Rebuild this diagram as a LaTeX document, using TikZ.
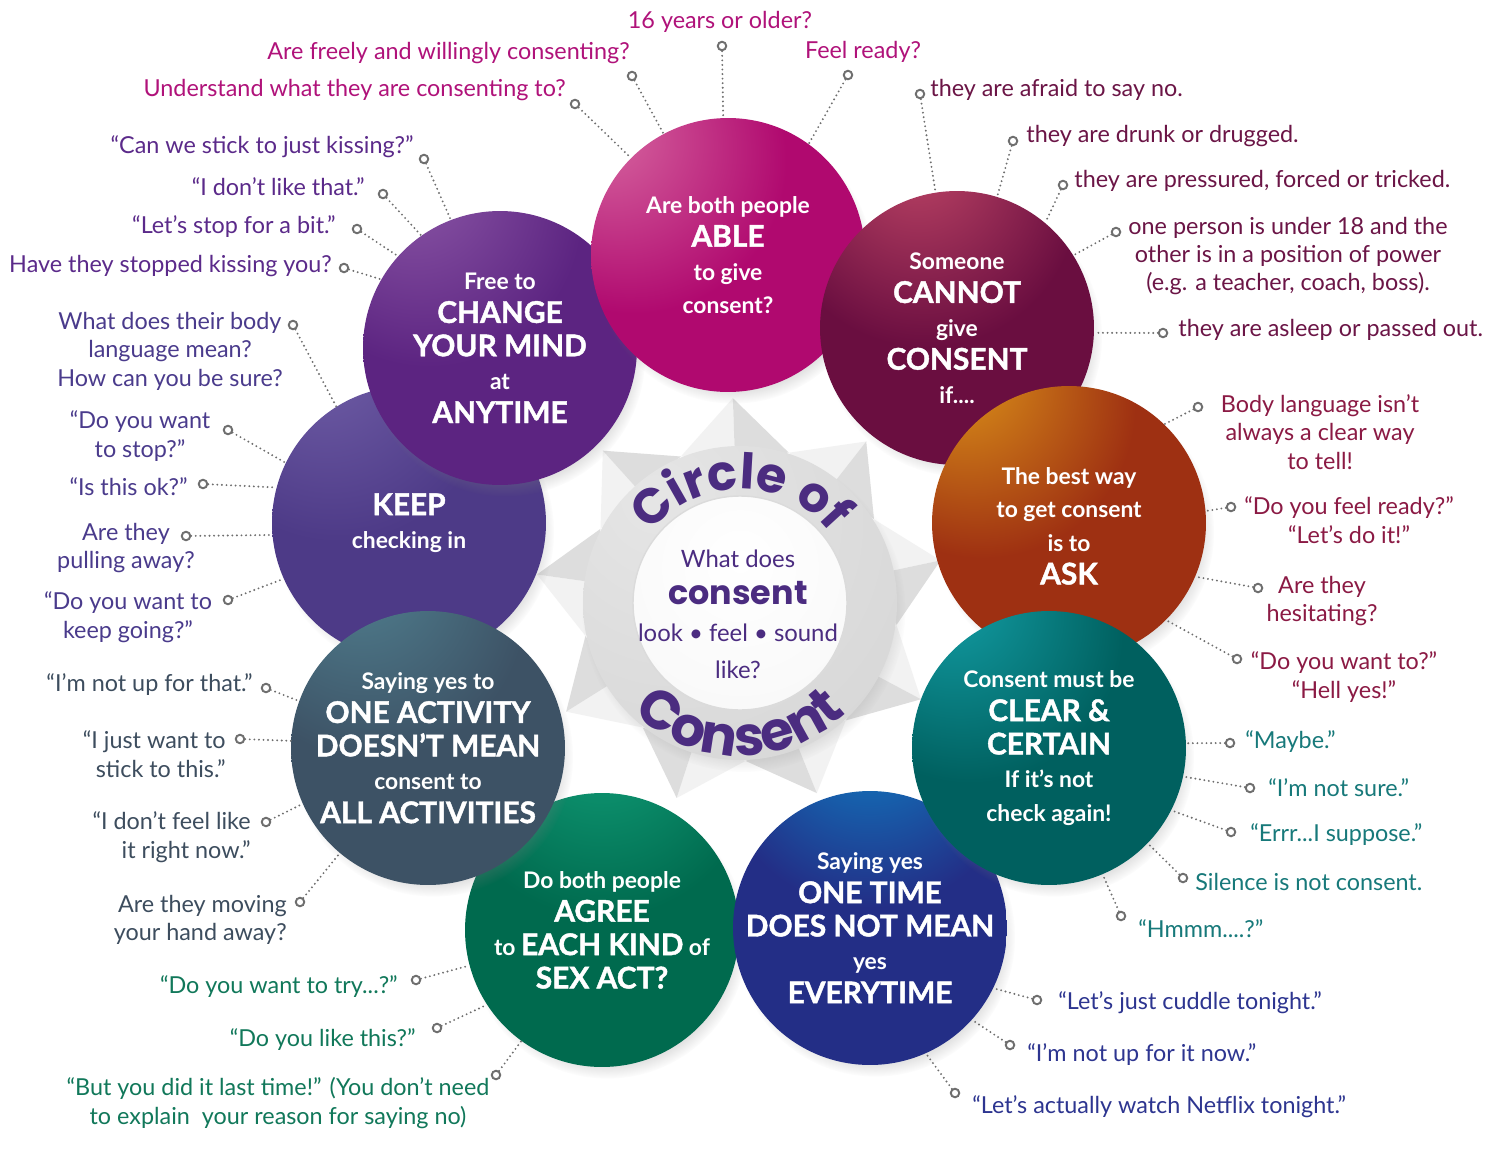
\documentclass[tikz,border=0pt]{standalone}
\usepackage{fontspec}
\setmainfont{Lato}
\newfontfamily\roundfont{Poppins}
\newfontfamily\heavyfont{Lato}[FakeBold=1.4]
\usepackage{tikz}
\usetikzlibrary{shadows}
\usetikzlibrary{decorations.text}
\usetikzlibrary{calc,positioning}

% ball colours (base and highlight)
\definecolor{ableC}{HTML}{B0096F}   \definecolor{ableH}{HTML}{D86AA2}
\definecolor{cannotC}{HTML}{6A0E40} \definecolor{cannotH}{HTML}{C24868}
\definecolor{askC}{HTML}{9E3012}    \definecolor{askH}{HTML}{E09A1A}
\definecolor{clearC}{HTML}{00605F}  \definecolor{clearH}{HTML}{14A2AA}
\definecolor{onetimeC}{HTML}{232E86}\definecolor{onetimeH}{HTML}{0A92D2}
\definecolor{agreeC}{HTML}{006A4E}  \definecolor{agreeH}{HTML}{14A880}
\definecolor{oneactC}{HTML}{3D5265} \definecolor{oneactH}{HTML}{528494}
\definecolor{keepC}{HTML}{4D3A87}   \definecolor{keepH}{HTML}{7462AA}
\definecolor{changeC}{HTML}{5C2481} \definecolor{changeH}{HTML}{905CAA}
% label colours
\definecolor{ableT}{HTML}{B0127A}
\definecolor{cannotT}{HTML}{6B1546}
\definecolor{askT}{HTML}{8B1A44}
\definecolor{clearT}{HTML}{17797A}
\definecolor{onetimeT}{HTML}{2D3590}
\definecolor{agreeT}{HTML}{11785A}
\definecolor{oneactT}{HTML}{3D4D5E}
\definecolor{keepT}{HTML}{4A3B8C}
\definecolor{changeT}{HTML}{5B2A8A}
\definecolor{hubT}{HTML}{4B2C80}
\definecolor{pinC}{HTML}{6E6E6E}

% highlight shadings
\newcommand\ballshading[5]{\pgfdeclareradialshading{#1}{\pgfpoint{#4}{#5}}%
  {color(0bp)=(#2); color(28bp)=(#3); color(100bp)=(#3)}}
\ballshading{ableS}{ableH}{ableC}{-24bp}{24bp}
\ballshading{cannotS}{cannotH}{cannotC}{-8bp}{34bp}
\ballshading{askS}{askH}{askC}{-22bp}{30bp}
\ballshading{clearS}{clearH}{clearC}{-20bp}{30bp}
\ballshading{onetimeS}{onetimeH}{onetimeC}{0bp}{44bp}
\ballshading{agreeS}{agreeH}{agreeC}{0bp}{42bp}
\ballshading{oneactS}{oneactH}{oneactC}{-14bp}{36bp}
\ballshading{keepS}{keepH}{keepC}{-18bp}{34bp}
\ballshading{changeS}{changeH}{changeC}{-18bp}{34bp}
\pgfdeclareradialshading{ringS}{\pgfpoint{-14bp}{18bp}}%
  {color(0bp)=(gray!20); color(45bp)=(gray!32); color(100bp)=(gray!44)}
\pgfdeclareradialshading{diskS}{\pgfpoint{0bp}{10bp}}%
  {color(0bp)=(white); color(40bp)=(gray!6); color(100bp)=(gray!14)}

\newcommand\lblfont{\fontsize{13.3}{16.2}\selectfont}
\newcommand\ballsm{\bfseries\fontsize{13}{19}\selectfont}
\newcommand\ballbg{\heavyfont\bfseries\fontsize{17}{19}\selectfont}

\begin{document}
\begin{tikzpicture}[x=0.02cm, y=-0.02cm,
  ball/.style={circle, minimum size=5.48cm, inner sep=0pt, shade,
    circular drop shadow={shadow scale=1.02, shadow xshift=3pt,
      shadow yshift=-5pt, opacity=.35}},
  balltxt/.style={align=center, inner sep=0pt, text=white, font=\ballsm},
  pin/.style={circle, draw=pinC, fill=white, line width=1.1pt,
    minimum size=0.17cm, inner sep=0pt},
  lead/.style={draw=pinC, line width=1.2pt, line cap=round,
    dash pattern=on 0pt off 2.6pt},
  lbl/.style={font=\lblfont, align=center, inner sep=0pt},
  starL/.style={fill=gray!10},
  starD/.style={fill=gray!27}]

\fill[white] (0,0) rectangle (1500,1149);
\useasboundingbox (0,0) rectangle (1500,1149);

% centre star and ring
\coordinate (hub) at (740,603);
\foreach \k in {0,...,8}{
  \pgfmathsetmacro\a{-92+40*\k}
  \fill[starL] ($(hub)+(\a:205)$) -- ($(hub)+(\a-20:158)$) -- ($(hub)+(\a:150)$) -- cycle;
  \fill[starD] ($(hub)+(\a:205)$) -- ($(hub)+(\a+20:158)$) -- ($(hub)+(\a:150)$) -- cycle;
}
\path[shade, shading=ringS, circular drop shadow={shadow scale=1.03,
  shadow xshift=2pt, shadow yshift=-4pt, opacity=.3}] (hub) circle[radius=157];
\path[shade, shading=diskS] (hub) circle[radius=107];
\draw[gray!28, line width=0.8pt] (hub) circle[radius=107];

% ring text
\path[decorate, decoration={text along path, text align=center, text color=hubT,
  text={|\roundfont\bfseries\fontsize{28}{28}\selectfont|Circle of}}]
  ($(hub)+(-172:114)$) arc[start angle=-172, end angle=-8, radius=114];
\path[decorate, decoration={text along path, text align=center, text color=hubT,
  text={|\roundfont\bfseries\fontsize{31}{31}\selectfont|Consent}}]
  ($(hub)+(165:153)$) arc[start angle=165, end angle=15, radius=153];

\node[lbl, text=hubT, font=\fontsize{13.6}{21}\selectfont] (hubtxt) at (738,614)
  {What does\\ {\roundfont\bfseries\fontsize{19}{21}\selectfont consent}\\
   look • feel • sound\\ like?};

% the nine balls (back to front)
\node[ball, shading=keepS] (keep) at (409,523) {};
\node[balltxt] (keepTxt) at (keep) {\ballbg KEEP\\ checking in};
\node[ball, shading=agreeS] (agree) at (602,930) {};
\node[balltxt] (agreeTxt) at (agree)
  {Do both people\\ \ballbg AGREE\\ to {\ballbg EACH KIND} of\\ \ballbg SEX ACT?};
\node[ball, shading=onetimeS] (onetime) at (870,928) {};
\node[balltxt] (onetimeTxt) at (onetime)
  {Saying yes\\ \ballbg ONE TIME\\ \ballbg DOES NOT MEAN\\ yes\\ \ballbg EVERYTIME};
\node[ball, shading=oneactS] (oneact) at (428,748) {};
\node[balltxt] (oneactTxt) at (oneact)
  {Saying yes to\\ \ballbg ONE ACTIVITY\\ \ballbg DOESN’T MEAN\\ consent to\\ \ballbg ALL ACTIVITIES};
\node[ball, shading=changeS] (change) at (500,348) {};
\node[balltxt] (changeTxt) at (change)
  {Free to\\ \ballbg CHANGE\\ \ballbg YOUR MIND\\ at\\ \ballbg ANYTIME};
\node[ball, shading=ableS] (able) at (728,255) {};
\node[balltxt] (ableTxt) at (able)
  {Are both people\\ \ballbg ABLE\\ to give\\ consent?};
\node[ball, shading=cannotS] (cannot) at (957,328) {};
\node[balltxt] (cannotTxt) at (cannot)
  {Someone\\ \ballbg CANNOT\\ give\\ \ballbg CONSENT\\ if....};
\node[ball, shading=askS] (ask) at (1069,523) {};
\node[balltxt] (askTxt) at ($(ask)+(0,3)$)
  {The best way\\ to get consent\\ is to\\ \ballbg ASK};
\node[ball, shading=clearS] (clear) at (1049,748) {};
\node[balltxt] (clearTxt) at (clear)
  {Consent must be\\ \ballbg CLEAR \&\\ \ballbg CERTAIN\\ If it’s not\\ check again!};

% able
\node[pin] (ableP1) at (722,46) {};
\node[pin] (ableP2) at (632,76) {};
\node[pin] (ableP3) at (575,104) {};
\node[pin] (ableP4) at (848,75) {};
\draw[lead] (ableP1) -- (able.92);
\draw[lead] (ableP2) -- (able.118);
\draw[lead] (ableP3) -- (able.135);
\draw[lead] (ableP4) -- (able.54);
\node[lbl, text=ableT] (ableL1) at (720,22) {16 years or older?};
\node[lbl, text=ableT, anchor=east] (ableL2) at (630,53) {Are freely and willingly consenting?};
\node[lbl, text=ableT, anchor=east] (ableL3) at (566,90) {Understand what they are consenting to?};
\node[lbl, text=ableT] (ableL4) at (863,52) {Feel ready?};

% cannot
\node[pin] (cannotP1) at (920,94) {};
\node[pin] (cannotP2) at (1013,141) {};
\node[pin] (cannotP3) at (1063,185) {};
\node[pin] (cannotP4) at (1116,232) {};
\node[pin] (cannotP5) at (1163,333) {};
\draw[lead] (cannotP1) -- (cannot.99);
\draw[lead] (cannotP2) -- (cannot.73);
\draw[lead] (cannotP3) -- (cannot.50);
\draw[lead] (cannotP4) -- (cannot.32);
\draw[lead] (cannotP5) -- (cannot.-2);
\node[lbl, text=cannotT, anchor=west] (cannotL1) at (930,90) {they are afraid to say no.};
\node[lbl, text=cannotT, anchor=west] (cannotL2) at (1026,136) {they are drunk or drugged.};
\node[lbl, text=cannotT, anchor=west] (cannotL3) at (1074,181) {they are pressured, forced or tricked.};
\node[lbl, text=cannotT] (cannotL4) at (1288,256)
  {one person is under 18 and the\\ other is in a position of power\\ (e.g. a teacher, coach, boss).};
\node[lbl, text=cannotT, anchor=west] (cannotL5) at (1178,330) {they are asleep or passed out.};

% ask
\node[pin] (askP1) at (1198,407) {};
\node[pin] (askP2) at (1231,507) {};
\node[pin] (askP3) at (1258,588) {};
\node[pin] (askP4) at (1237,659) {};
\draw[lead] (askP1) -- (ask.46);
\draw[lead] (askP2) -- (ask.5);
\draw[lead] (askP3) -- (ask.-23);
\draw[lead] (askP4) -- (ask.-45);
\node[lbl, text=askT] (askL1) at (1320,432) {Body language isn’t\\ always a clear way\\ to tell!};
\node[lbl, text=askT] (askL2) at (1349,520) {“Do you feel ready?”\\ “Let’s do it!”};
\node[lbl, text=askT] (askL3) at (1322,601) {Are they\\ hesitating?};
\node[lbl, text=askT] (askL4) at (1344,677) {“Do you want to?”\\ “Hell yes!”};

% clear
\node[pin] (clearP1) at (1230,743) {};
\node[pin] (clearP2) at (1250,788) {};
\node[pin] (clearP3) at (1231,832) {};
\node[pin] (clearP4) at (1183,878) {};
\node[pin] (clearP5) at (1121,916) {};
\draw[lead] (clearP1) -- (clear.2);
\draw[lead] (clearP2) -- (clear.-12);
\draw[lead] (clearP3) -- (clear.-27);
\draw[lead] (clearP4) -- (clear.-44);
\draw[lead] (clearP5) -- (clear.-67);
\node[lbl, text=clearT, anchor=west] (clearL1) at (1245,742) {“Maybe.”};
\node[lbl, text=clearT, anchor=west] (clearL2) at (1268,788) {“I’m not sure.”};
\node[lbl, text=clearT, anchor=west] (clearL3) at (1250,835) {“Errr...I suppose.”};
\node[lbl, text=clearT, anchor=west] (clearL4) at (1195,882) {Silence is not consent.};
\node[lbl, text=clearT, anchor=west] (clearL5) at (1138,929) {“Hmmm....?”};

% one time
\node[pin] (onetimeP1) at (1037,1000) {};
\node[pin] (onetimeP2) at (1010,1045) {};
\node[pin] (onetimeP3) at (955,1093) {};
\draw[lead] (onetimeP1) -- (onetime.-26);
\draw[lead] (onetimeP2) -- (onetime.-42);
\draw[lead] (onetimeP3) -- (onetime.-66);
\node[lbl, text=onetimeT, anchor=west] (onetimeL1) at (1058,1003) {“Let’s just cuddle tonight.”};
\node[lbl, text=onetimeT, anchor=west] (onetimeL2) at (1027,1055) {“I’m not up for it now.”};
\node[lbl, text=onetimeT, anchor=west] (onetimeL3) at (972,1107) {“Let’s actually watch Netflix tonight.”};

% agree
\node[pin] (agreeP1) at (416,980) {};
\node[pin] (agreeP2) at (437,1028) {};
\node[pin] (agreeP3) at (496,1075) {};
\draw[lead] (agreeP1) -- (agree.195);
\draw[lead] (agreeP2) -- (agree.213);
\draw[lead] (agreeP3) -- (agree.234);
\node[lbl, text=agreeT, anchor=east] (agreeL1) at (398,987) {“Do you want to try...?”};
\node[lbl, text=agreeT, anchor=east] (agreeL2) at (416,1040) {“Do you like this?”};
\node[lbl, text=agreeT] (agreeL3) at (278,1103)
  {“But you did it last time!” (You don’t need\\ to explain\ \ your reason for saying no)};

% one activity
\node[pin] (oneactP1) at (266,688) {};
\node[pin] (oneactP2) at (240,739) {};
\node[pin] (oneactP3) at (266,822) {};
\node[pin] (oneactP4) at (300,902) {};
\draw[lead] (oneactP1) -- (oneact.160);
\draw[lead] (oneactP2) -- (oneact.177);
\draw[lead] (oneactP3) -- (oneact.204);
\draw[lead] (oneactP4) -- (oneact.230);
\node[lbl, text=oneactT, anchor=east] (oneactL1) at (253,685) {“I’m not up for that.”};
\node[lbl, text=oneactT, anchor=east, align=right] (oneactL2) at (226,754) {“I just want to\\ stick to this.”};
\node[lbl, text=oneactT, anchor=east, align=right] (oneactL3) at (251,837) {“I don’t feel like\\ it right now.”};
\node[lbl, text=oneactT, anchor=east, align=right] (oneactL4) at (287,920) {Are they moving\\ your hand away?};

% keep
\node[pin] (keepP1) at (293,325) {};
\node[pin] (keepP2) at (228,430) {};
\node[pin] (keepP3) at (203,484) {};
\node[pin] (keepP4) at (186,536) {};
\node[pin] (keepP5) at (228,600) {};
\draw[lead] (keepP1) -- (keep.122);
\draw[lead] (keepP2) -- (keep.154);
\draw[lead] (keepP3) -- (keep.165);
\draw[lead] (keepP4) -- (keep.185);
\draw[lead] (keepP5) -- (keep.204);
\node[lbl, text=keepT] (keepL1) at (170,351) {What does their body\\ language mean?\\ How can you be sure?};
\node[lbl, text=keepT] (keepL2) at (140,436) {“Do you want\\ to stop?”};
\node[lbl, text=keepT, anchor=east] (keepL3) at (188,487) {“Is this ok?”};
\node[lbl, text=keepT] (keepL4) at (126,548) {Are they\\ pulling away?};
\node[lbl, text=keepT] (keepL5) at (128,617) {“Do you want to\\ keep going?”};

% change
\node[pin] (changeP1) at (424,159) {};
\node[pin] (changeP2) at (383,194) {};
\node[pin] (changeP3) at (357,229) {};
\node[pin] (changeP4) at (344,268) {};
\draw[lead] (changeP1) -- (change.111);
\draw[lead] (changeP2) -- (change.125);
\draw[lead] (changeP3) -- (change.138);
\draw[lead] (changeP4) -- (change.150);
\node[lbl, text=changeT, anchor=east] (changeL1) at (414,147) {“Can we stick to just kissing?”};
\node[lbl, text=changeT, anchor=east] (changeL2) at (365,187) {“I don’t like that.”};
\node[lbl, text=changeT, anchor=east] (changeL3) at (336,227) {“Let’s stop for a bit.”};
\node[lbl, text=changeT, anchor=east] (changeL4) at (332,266) {Have they stopped kissing you?};

\end{tikzpicture}
\end{document}
